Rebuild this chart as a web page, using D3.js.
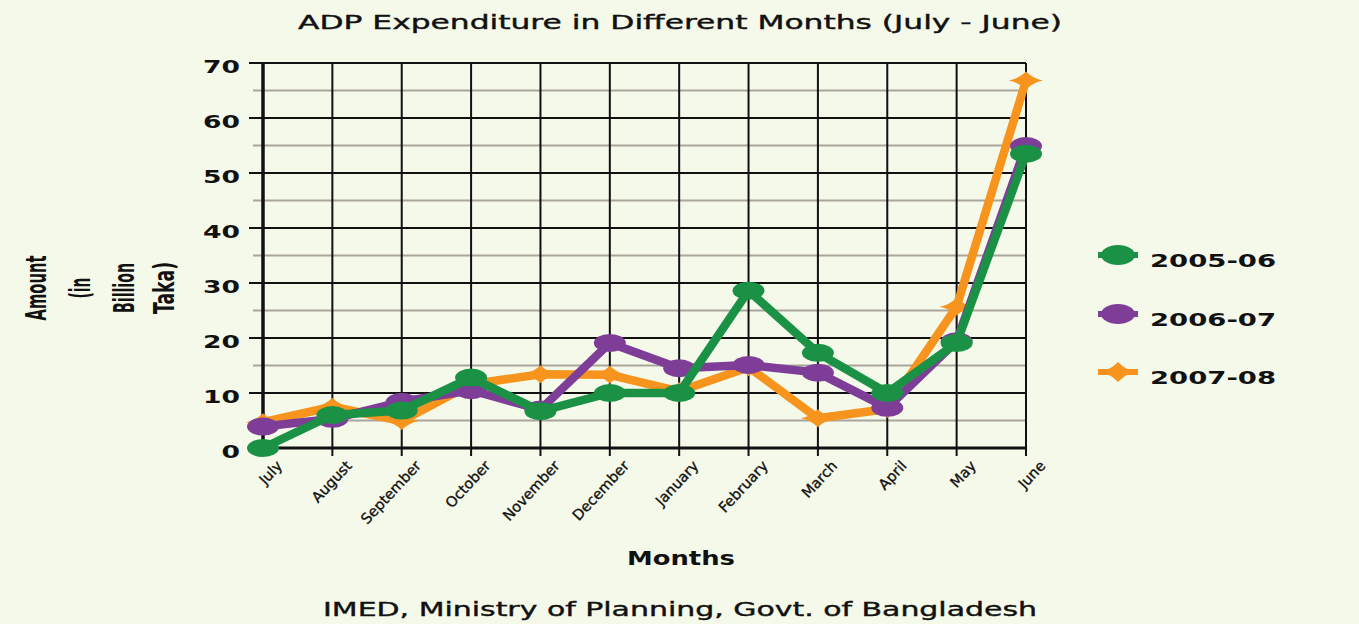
<!DOCTYPE html>
<html>
<head>
<meta charset="utf-8">
<script src="https://cdn.jsdelivr.net/npm/d3@7"></script>
<style>
  body { margin: 0; background: #f5f9ea; }
  svg { display: block; }
  text { fill: #111; }
</style>
</head>
<body>
<svg width="1359" height="624"></svg>
<script>
const months = ["July", "August", "September", "October", "November", "December",
                "January", "February", "March", "April", "May", "June"];
const seriesNames = ["2005-06", "2006-07", "2007-08"];
const fy0506 = [0, 6, 6.8, 12.8, 6.7, 10, 10, 28.6, 17.3, 10, 19.1, 53.5];
const fy0607 = [3.9, 5.3, 8.4, 10.5, 7, 19.1, 14.5, 15.1, 13.7, 7.3, 19.4, 54.9];
const fy0708 = [4.7, 7.5, 4.9, 11.6, 13.4, 13.3, 10.3, 14.7, 5.4, 7.1, 25.7, 66.8];
const yTicks = [0, 10, 20, 30, 40, 50, 60, 70];
const yMinor = [5, 15, 25, 35, 45, 55, 65];

const colors = { "2005-06": "#1b9146", "2006-07": "#7e3e98", "2007-08": "#f7941d" };

const svg = d3.select("svg");
const plotLeft = 263, plotRight = 1026, plotTop = 63, plotBottom = 448;

const x = d3.scalePoint().domain(months).range([plotLeft, plotRight]).padding(0);
const y = d3.scaleLinear().domain([0, 70]).range([plotBottom, plotTop]);

const font = "'DejaVu Sans', sans-serif";

// stretched text helper (the original uses a wide comic style face)
function label(txt, px, py, size, len, weight) {
  return svg.append("text")
     .attr("x", px).attr("y", py)
     .attr("text-anchor", "middle")
     .attr("textLength", len)
     .attr("lengthAdjust", "spacingAndGlyphs")
     .style("font-family", font)
     .style("font-size", size + "px")
     .style("font-weight", weight || "normal")
     .text(txt);
}

label("ADP Expenditure in Different Months (July - June)", 680, 29, 20, 764)
  .attr("stroke", "#111").attr("stroke-width", 0.4);
label("Months", 681, 565, 20, 108, "bold");
label("IMED, Ministry of Planning, Govt. of Bangladesh", 680, 616, 20, 714)
  .attr("stroke", "#111").attr("stroke-width", 0.4);

// minor gridlines
svg.append("g")
   .selectAll("line")
   .data(yMinor)
   .enter().append("line")
   .attr("x1", plotLeft - 10).attr("x2", plotRight)
   .attr("y1", d => y(d)).attr("y2", d => y(d))
   .attr("stroke", "#a9a59b").attr("stroke-width", 2);

// major horizontal gridlines
svg.append("g")
   .selectAll("line")
   .data(yTicks)
   .enter().append("line")
   .attr("x1", plotLeft - 14).attr("x2", plotRight)
   .attr("y1", d => y(d)).attr("y2", d => y(d))
   .attr("stroke", "#111").attr("stroke-width", d => d === 0 ? 3 : 2);

// vertical gridlines
svg.append("g")
   .selectAll("line")
   .data(months)
   .enter().append("line")
   .attr("x1", d => x(d)).attr("x2", d => x(d))
   .attr("y1", plotTop).attr("y2", plotBottom + 8)
   .attr("stroke", "#111").attr("stroke-width", (d, i) => i === 0 ? 3.5 : 2);

// y axis labels
const yAxis = svg.append("g")
   .attr("transform", `translate(${plotLeft - 23}, 3.5)`)
   .call(d3.axisLeft(y).tickValues(yTicks).tickSize(0).tickPadding(0));
yAxis.select(".domain").remove();
yAxis.selectAll("text")
     .style("font-family", font)
     .style("font-weight", "bold")
     .style("font-size", "18px")
     .attr("textLength", d => String(d).length * 18.5)
     .attr("lengthAdjust", "spacingAndGlyphs")
     .attr("fill", "#111");

// x axis labels
const xAxis = svg.append("g")
   .attr("transform", `translate(16, 463)`)
   .call(d3.axisBottom(x).tickSize(0).tickPadding(0));
xAxis.select(".domain").remove();
xAxis.selectAll("text")
     .style("font-family", font)
     .style("font-size", "14.5px")
     .attr("fill", "#111")
     .attr("stroke", "#111").attr("stroke-width", 0.35)
     .attr("text-anchor", "end")
     .attr("y", 0)
     .attr("dy", "0.35em")
     .attr("transform", "rotate(-47)");

// y axis title, one word per rotated line
const yTitle = ["Amount", "(in", "Billion", "Taka)"];
const yTitleLen = [65, 21, 50, 52];
const yTitleX = [46, 90, 134, 174];
svg.append("g")
   .selectAll("text")
   .data(yTitle)
   .enter().append("text")
   .attr("transform", (d, i) => `translate(${yTitleX[i]}, 288) rotate(-90)`)
   .attr("text-anchor", "middle")
   .attr("textLength", (d, i) => yTitleLen[i])
   .attr("lengthAdjust", "spacingAndGlyphs")
   .style("font-family", font)
   .style("font-size", "29px")
   .style("font-weight", "bold")
   .text(d => d);

// series
const seriesData = [
  { name: "2007-08", values: fy0708, shape: "diamond" },
  { name: "2006-07", values: fy0607, shape: "ellipse" },
  { name: "2005-06", values: fy0506, shape: "ellipse" }
];

const line = d3.line()
               .x((d, i) => x(months[i]))
               .y(d => y(d));

const diamond = "M-17,0 Q-7,-2 0,-9 Q7,-2 17,0 Q7,2 0,9 Q-7,2 -17,0 Z";

seriesData.forEach((s) => {
  const g = svg.append("g");
  g.append("path")
   .datum(s.values)
   .attr("d", line)
   .attr("fill", "none")
   .attr("stroke", colors[s.name])
   .attr("stroke-width", 8.5)
   .attr("stroke-linejoin", "round");

  if (s.shape === "ellipse") {
    g.selectAll("ellipse")
     .data(s.values)
     .enter().append("ellipse")
     .attr("cx", (d, i) => x(months[i]))
     .attr("cy", d => y(d))
     .attr("rx", 16).attr("ry", 9)
     .attr("fill", colors[s.name]);
  } else {
    g.selectAll("path.m")
     .data(s.values)
     .enter().append("path")
     .attr("class", "m")
     .attr("d", diamond)
     .attr("transform", (d, i) => `translate(${x(months[i])}, ${y(d)})`)
     .attr("fill", colors[s.name]);
  }
});

// legend
const legendY = [255, 314, 372];
const legend = svg.append("g");
seriesNames.forEach((name, i) => {
  const ly = legendY[i];
  legend.append("line")
        .attr("x1", 1098).attr("x2", 1138)
        .attr("y1", ly).attr("y2", ly)
        .attr("stroke", colors[name]).attr("stroke-width", 6);
  if (name === "2007-08") {
    legend.append("path")
          .attr("d", diamond)
          .attr("transform", `translate(1118, ${ly}) scale(1.05, 1.1)`)
          .attr("fill", colors[name]);
  } else {
    legend.append("ellipse")
          .attr("cx", 1118).attr("cy", ly)
          .attr("rx", 17).attr("ry", 10)
          .attr("fill", colors[name]);
  }
  legend.append("text")
        .attr("x", 1150).attr("y", ly + 12)
        .attr("textLength", 126)
        .attr("lengthAdjust", "spacingAndGlyphs")
        .style("font-family", font)
        .style("font-size", "18px")
        .style("font-weight", "bold")
        .text(name);
});
</script>
</body>
</html>
